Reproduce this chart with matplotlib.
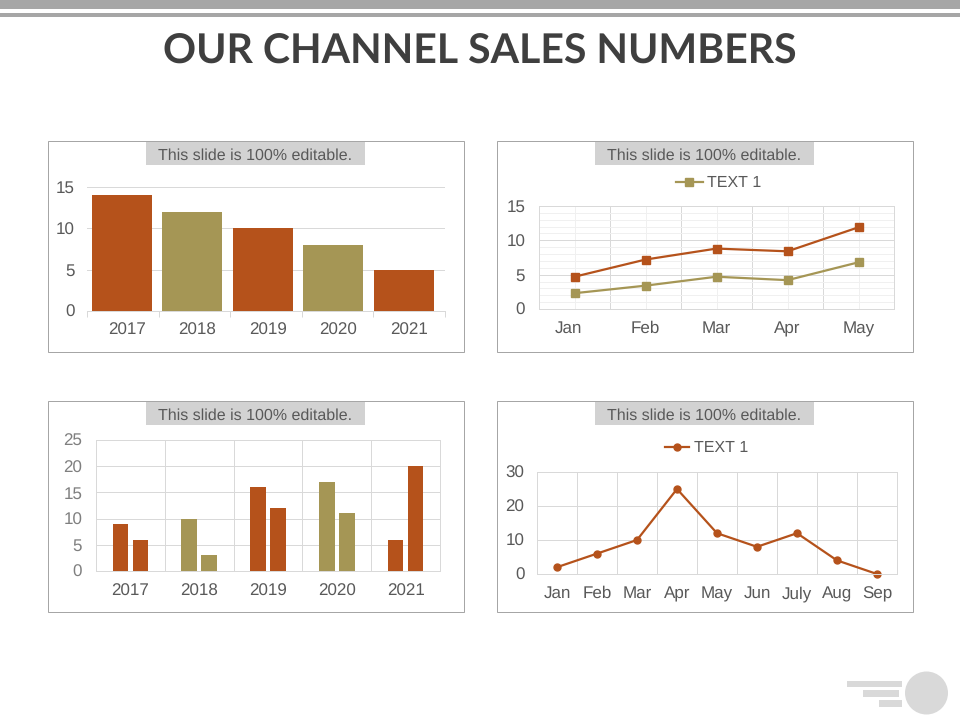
import numpy as np
import matplotlib
matplotlib.use('Agg')
import matplotlib.pyplot as plt
from matplotlib.patches import Rectangle, Circle
from matplotlib.transforms import ScaledTranslation

W, H = 960, 720
RUST = '#B5521B'
OLIVE = '#A59655'
GRID = '#D9D9D9'
MINOR = '#F0F0F0'
TEXT = '#595959'
PX = 0.72  # one pixel line at dpi 100

plt.rcParams['font.family'] = ['Liberation Sans', 'DejaVu Sans']
plt.rcParams['text.hinting'] = 'no_hinting'
plt.rcParams['text.hinting_factor'] = 1

# top left chart
years = ['2017', '2018', '2019', '2020', '2021']
sales_year = [14, 12, 10, 8, 5]
sales_colors = [RUST, OLIVE, RUST, OLIVE, RUST]

# top right chart
months_short = ['Jan', 'Feb', 'Mar', 'Apr', 'May']
line_upper = [4.7, 7.2, 8.8, 8.4, 11.9]
line_lower = [2.3, 3.4, 4.7, 4.2, 6.8]

# bottom left chart
pair_first = [9, 10, 16, 17, 6]
pair_second = [6, 3, 12, 11, 20]
pair_colors = [RUST, OLIVE, RUST, OLIVE, RUST]

# bottom right chart
months_long = ['Jan', 'Feb', 'Mar', 'Apr', 'May', 'Jun', 'July', 'Aug', 'Sep']
line_single = [2, 6, 10, 25, 12, 8, 12, 4, 0]

fig = plt.figure(figsize=(W / 100, H / 100), dpi=100, facecolor='white')

# background layer in pixel coords, y going down
bg = fig.add_axes([0, 0, 1, 1])
bg.set_xlim(0, W)
bg.set_ylim(H, 0)
bg.axis('off')


def add_chart_axes(left, right, top, bottom):
    ax = fig.add_axes([left / W, 1 - bottom / H, (right - left) / W, (bottom - top) / H])
    ax.patch.set_alpha(0)
    ax.set_axisbelow(True)
    for s in ax.spines.values():
        s.set_color(GRID)
        s.set_linewidth(PX)
    ax.tick_params(axis='both', length=0, labelcolor=TEXT, labelsize=12)
    return ax


# header bars
bg.add_patch(Rectangle((0, 0), W, 9, color='#A6A6A6', lw=0))
bg.add_patch(Rectangle((0, 13), W, 4, color='#A6A6A6', lw=0))
bg.text(480, 52, 'OUR CHANNEL SALES NUMBERS', ha='center', va='center', fontsize=29.5,
        fontweight='bold', color='#3F3F3F', family='Lato')

# panel frames with the grey caption strip
frames = [(48, 141), (497, 141), (48, 401), (497, 401)]
for x0, y0 in frames:
    bg.add_patch(Rectangle((x0, y0), 416, 211, fill=False, ec='#A6A6A6', lw=PX, snap=True))
    bg.add_patch(Rectangle((x0 + 98, y0 + 1), 219, 23, color='#D2D2D2', lw=0))
    bg.text(x0 + 207, y0 + 15, 'This slide is 100% editable.', ha='center', va='center',
            fontsize=11.5, color=TEXT)

# logo bottom right
bg.add_patch(Rectangle((847, 681), 55, 6, color='#D9D9D9', lw=0))
bg.add_patch(Rectangle((863, 690), 36, 7, color='#D9D9D9', lw=0))
bg.add_patch(Rectangle((879, 700), 23, 7, color='#D9D9D9', lw=0))
bg.add_patch(Circle((926.5, 693), 21.5, color='#D9D9D9', lw=0))

# top left: bars
ax1 = add_chart_axes(87, 445, 187, 311)
x = np.arange(len(years))
ax1.bar(x, sales_year, width=0.85, color=sales_colors)
ax1.set_xlim(-0.496, 4.58)
ax1.set_ylim(0, 15)
ax1.set_yticks([0, 5, 10, 15])
ax1.set_xticks(x + 0.07)
ax1.set_xticklabels(years)
ax1.set_xticks(np.arange(-0.496, 4.6, 1.016), minor=True)
ax1.tick_params(axis='x', which='minor', length=4, color=GRID, width=PX)
ax1.tick_params(axis='x', which='major', pad=8)
ax1.tick_params(axis='y', pad=9)
ax1.grid(axis='y', color=GRID, lw=PX)
for side in ['top', 'left', 'right']:
    ax1.spines[side].set_visible(False)

# top right: two lines with minor grid
ax2 = add_chart_axes(539, 894, 206, 309)
x = np.arange(len(months_short))
ax2.set_xlim(-0.5, 4.5)
ax2.set_ylim(0, 15)
ax2.set_yticks([0, 5, 10, 15])
ax2.set_yticks(np.arange(0, 16), minor=True)
ax2.set_xticks(x)
ax2.set_xticklabels(months_short, va='baseline')
ax2.set_xticks(np.arange(0.5, 4), minor=True)
ax2.tick_params(axis='both', which='minor', length=0)
ax2.tick_params(axis='x', which='major', pad=17.5)
ax2.tick_params(axis='y', pad=10)
ax2.grid(True, axis='y', which='minor', color=MINOR, lw=PX)
ax2.grid(True, axis='x', which='major', color=MINOR, lw=PX)
ax2.grid(True, axis='x', which='minor', color=GRID, lw=PX)
ax2.grid(True, axis='y', which='major', color=GRID, lw=PX)
ax2.plot(x, line_upper, color=RUST, lw=1.6, marker='s', ms=5.5)
line2, = ax2.plot(x, line_lower, color=OLIVE, lw=1.6, marker='s', ms=5.5, label='TEXT 1')
ax2.legend(handles=[line2], loc='center', bbox_to_anchor=(0.505, 1.22), frameon=False, fontsize=11.5,
           labelcolor=TEXT, handlelength=1.7, handletextpad=0.25, borderpad=0)
# Jan label sits left of its category in the original
jan = ax2.get_xticklabels()[0]
jan.set_transform(jan.get_transform() + ScaledTranslation(-6 / 100, 0, fig.dpi_scale_trans))

# bottom left: paired bars
ax3 = add_chart_axes(96, 440, 440, 571)
x = np.arange(len(years))
ax3.bar(x - 0.145, pair_first, width=0.225, color=pair_colors)
ax3.bar(x + 0.145, pair_second, width=0.225, color=pair_colors)
ax3.set_xlim(-0.5, 4.5)
ax3.set_ylim(0, 25)
ax3.set_yticks(range(0, 26, 5))
ax3.set_xticks(x)
ax3.set_xticklabels(years)
ax3.set_xticks(np.arange(0.5, 4), minor=True)
ax3.tick_params(axis='x', which='minor', length=0)
ax3.tick_params(axis='x', which='major', pad=9)
ax3.tick_params(axis='y', pad=10, labelcolor='#7F7F7F')
ax3.grid(True, axis='y', color=GRID, lw=PX)
ax3.grid(True, axis='x', which='minor', color=GRID, lw=PX)

# bottom right: single line
ax4 = add_chart_axes(537, 897, 472, 574)
x = np.arange(len(months_long))
ax4.set_xlim(-0.5, 8.5)
ax4.set_ylim(0, 30)
ax4.set_yticks([0, 10, 20, 30])
ax4.set_xticks(x)
ax4.set_xticklabels(months_long, va='baseline')
ax4.set_xticks(np.arange(0.5, 8), minor=True)
ax4.tick_params(axis='x', which='minor', length=0)
ax4.tick_params(axis='x', which='major', pad=17.5)
ax4.tick_params(axis='y', pad=9)
ax4.grid(True, axis='y', color=GRID, lw=PX)
ax4.grid(True, axis='x', which='minor', color=GRID, lw=PX)
ax4.plot(x, line_single, color=RUST, lw=1.6, marker='o', ms=5, label='TEXT 1', clip_on=False)
ax4.legend(loc='center', bbox_to_anchor=(0.472, 1.235), frameon=False, fontsize=11.5,
           labelcolor=TEXT, handlelength=1.5, handletextpad=0.3, borderpad=0)

fig.savefig('out.png', dpi=100)
